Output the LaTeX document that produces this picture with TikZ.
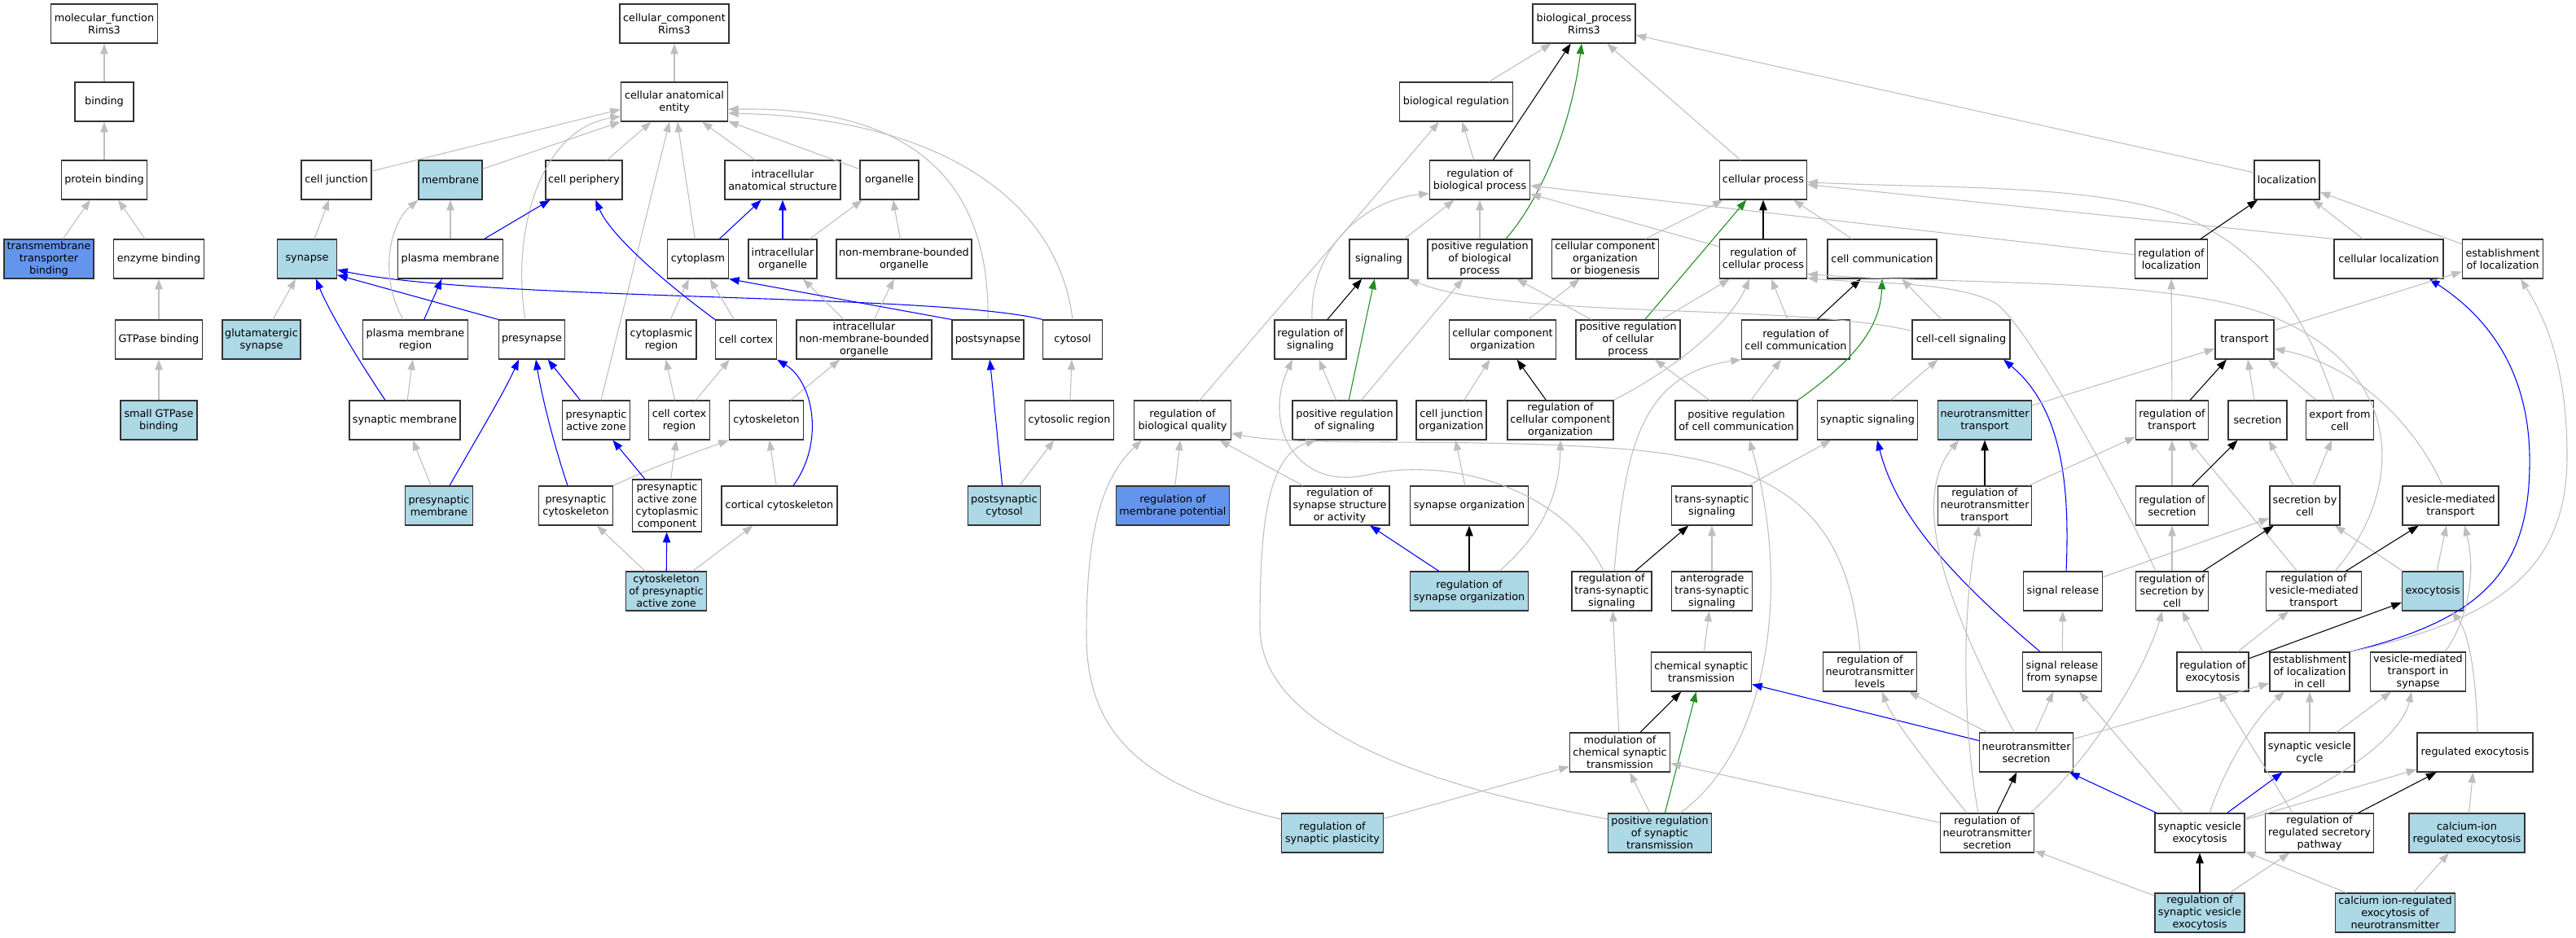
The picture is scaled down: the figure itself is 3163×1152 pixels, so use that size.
\documentclass[tikz,border=0pt]{standalone}
\usepackage{fontspec}
\setmainfont{DejaVu Sans}
\usepackage{tikz}
\usetikzlibrary{arrows.meta}
\usetikzlibrary{calc}
\definecolor{edgegray}{HTML}{BEBEBE}
\definecolor{partblue}{HTML}{0000FF}
\definecolor{posgreen}{HTML}{228B22}
\definecolor{hitblue}{HTML}{ADD8E6}
\definecolor{annblue}{HTML}{6495ED}
\begin{document}
\begin{tikzpicture}[x=0.75pt,y=0.75pt,yscale=-1,xscale=1,
  term/.style={draw=black!80,line width=0.9pt,fill=white,align=center,inner xsep=1pt,inner ysep=1pt,minimum height=36pt,font=\fontsize{9.6pt}{11.25pt}\selectfont},
  hit/.style={term,fill=hitblue},
  ann/.style={term,fill=annblue},
  bw/.style={minimum width=#1*0.75pt},
  isa/.style={draw=edgegray,line width=0.8pt,-{Triangle[length=9.5pt,width=7pt]}},
  partof/.style={isa,draw=partblue},
  regl/.style={isa,draw=black},
  posregl/.style={isa,draw=posgreen}]
  \useasboundingbox (0,0) rectangle (3163,1152); %picture is 3163 wide and 1152 high

  % Text Node: molecular function
  \node[term,bw=131] (mf) at (128,29) {molecular\_function\\Rims3};
  \node[term,bw=72] (binding) at (128,125) {binding};
  \node[term,bw=105] (protbind) at (128,221) {protein binding};
  \node[ann,bw=110] (tmtbind) at (60,318) {transmembrane\\transporter\\binding};
  \node[term,bw=111] (enzbind) at (195,318) {enzyme binding};
  \node[term,bw=107] (gtpbind) at (195,417) {GTPase binding};
  \node[hit,bw=94] (smgtp) at (195,516) {small GTPase\\binding};

  % Text Node: cellular component
  \node[term,bw=134] (cc) at (828,29) {cellular\_component\\Rims3};
  \node[term,bw=131] (cae) at (828,125) {cellular anatomical\\entity};
  \node[term,bw=86] (celljunc) at (413,221) {cell junction};
  \node[hit,bw=78] (membrane) at (553,221) {membrane};
  \node[term,bw=94] (cellper) at (717,221) {cell periphery};
  \node[term,bw=142] (ias) at (961,221) {intracellular\\anatomical structure};
  \node[term,bw=72] (organelle) at (1092,221) {organelle};
  \node[hit,bw=73] (synapse) at (377,318) {synapse};
  \node[term,bw=129] (plasmem) at (553,318) {plasma membrane};
  \node[term,bw=75] (cytoplasm) at (857,318) {cytoplasm};
  \node[term,bw=84] (icorg) at (961,318) {intracellular\\organelle};
  \node[term,bw=166] (nmbo) at (1110,318) {non-membrane-bounded\\organelle};
  \node[hit,bw=96] (glusyn) at (321,417) {glutamatergic\\synapse};
  \node[term,bw=129] (pmregion) at (510,417) {plasma membrane\\region};
  \node[term,bw=81] (presyn) at (653,417) {presynapse};
  \node[term,bw=86] (cytoreg) at (812,417) {cytoplasmic\\region};
  \node[term,bw=75] (cortex) at (916,417) {cell cortex};
  \node[term,bw=166] (icnmbo) at (1061,417) {intracellular\\non-membrane-bounded\\organelle};
  \node[term,bw=88] (postsyn) at (1213,417) {postsynapse};
  \node[term,bw=73] (cytosol) at (1317,417) {cytosol};
  \node[term,bw=136] (synmem) at (497,516) {synaptic membrane};
  \node[term,bw=83] (paz) at (732,516) {presynaptic\\active zone};
  \node[term,bw=75] (cortexreg) at (834,516) {cell cortex\\region};
  \node[term,bw=91] (cytoskel) at (941,516) {cytoskeleton};
  \node[term,bw=109] (cytosolreg) at (1313,516) {cytosolic region};
  \node[term,bw=119] (regbq) at (1452,516) {regulation of\\biological quality};
  \node[hit,bw=83] (presynmem) at (539,621) {presynaptic\\membrane};
  \node[term,bw=91] (presyncsk) at (707,621) {presynaptic\\cytoskeleton};
  \node[term,bw=85,minimum height=48pt] (pazcc) at (819,621) {presynaptic\\active zone\\cytoplasmic\\component};
  \node[term,bw=142] (corticalcsk) at (957,621) {cortical cytoskeleton};
  \node[hit,bw=89] (postsyncyt) at (1233,621) {postsynaptic\\cytosol};
  \node[ann,bw=139] (regmempot) at (1440,621) {regulation of\\membrane potential};
  \node[hit,bw=99] (cskpaz) at (818,726) {cytoskeleton\\of presynaptic\\active zone};

  % Text Node: biological process
  \node[term,bw=126] (bp) at (1945,29) {biological\_process\\Rims3};
  \node[term,bw=139] (bioreg) at (1788,125) {biological regulation};
  \node[term,bw=123] (regbp) at (1817,221) {regulation of\\biological process};
  \node[term,bw=107] (cellproc) at (2165,221) {cellular process};
  \node[term,bw=80] (localization) at (2808,221) {localization};
  \node[term,bw=72] (signaling) at (1693,318) {signaling};
  \node[term,bw=128] (posregbp) at (1817,318) {positive regulation\\of biological\\process};
  \node[term,bw=131] (ccob) at (1971,318) {cellular component\\organization\\or biogenesis};
  \node[term,bw=107] (regcp) at (2165,318) {regulation of\\cellular process};
  \node[term,bw=134] (cellcomm) at (2311,318) {cell communication};
  \node[term,bw=89] (regloc) at (2666,318) {regulation of\\localization};
  \node[term,bw=134] (cellloc) at (2933,318) {cellular localization};
  \node[term,bw=99] (estloc) at (3073,318) {establishment\\of localization};
  \node[term,bw=88] (regsig) at (1609,417) {regulation of\\signaling};
  \node[term,bw=131] (cco) at (1845,417) {cellular component\\organization};
  \node[term,bw=128] (posregcp) at (1999,417) {positive regulation\\of cellular\\process};
  \node[term,bw=133] (regcc) at (2205,417) {regulation of\\cell communication};
  \node[term,bw=120] (ccsig) at (2408,417) {cell-cell signaling};
  \node[term,bw=72] (transport) at (2756,417) {transport};
  \node[term,bw=128] (posregsig) at (1651,516) {positive regulation\\of signaling};
  \node[term,bw=86] (cjorg) at (1782,516) {cell junction\\organization};
  \node[term,bw=130] (regcco) at (1916,516) {regulation of\\cellular component\\organization};
  \node[term,bw=150] (posregcc) at (2132,516) {positive regulation\\of cell communication};
  \node[term,bw=123] (synsig) at (2293,516) {synaptic signaling};
  \node[hit,bw=115] (nttrans) at (2437,516) {neurotransmitter\\transport};
  \node[term,bw=89] (regtrans) at (2667,516) {regulation of\\transport};
  \node[term,bw=72] (secretion) at (2772,516) {secretion};
  \node[term,bw=83] (export) at (2873,516) {export from\\cell};
  \node[term,bw=122] (regsynstr) at (1645,621) {regulation of\\synapse structure\\or activity};
  \node[term,bw=145] (synorg) at (1804,621) {synapse organization};
  \node[term,bw=99] (tss) at (2102,621) {trans-synaptic\\signaling};
  \node[term,bw=115] (regnttrans) at (2437,621) {regulation of\\neurotransmitter\\transport};
  \node[term,bw=89] (regsec) at (2667,621) {regulation of\\secretion};
  \node[term,bw=86] (secbycell) at (2830,621) {secretion by\\cell};
  \node[term,bw=118] (vmt) at (3009,621) {vesicle-mediated\\transport};
  \node[hit,bw=145] (regsynorg) at (1804,726) {regulation of\\synapse organization};
  \node[term,bw=98] (regtss) at (1979,726) {regulation of\\trans-synaptic\\signaling};
  \node[term,bw=99] (antss) at (2102,726) {anterograde\\trans-synaptic\\signaling};
  \node[term,bw=97] (sigrel) at (2533,726) {signal release};
  \node[term,bw=89] (regsecbc) at (2667,726) {regulation of\\secretion by\\cell};
  \node[term,bw=117] (regvmt) at (2841,726) {regulation of\\vesicle-mediated\\transport};
  \node[hit,bw=75] (exocytosis) at (2987,726) {exocytosis};
  \node[term,bw=123] (chemst) at (2089,825) {chemical synaptic\\transmission};
  \node[term,bw=115] (regntlev) at (2296,825) {regulation of\\neurotransmitter\\levels};
  \node[term,bw=97] (sigrelsyn) at (2532,825) {signal release\\from synapse};
  \node[term,bw=88] (regexo) at (2717,825) {regulation of\\exocytosis};
  \node[term,bw=98] (estloccell) at (2836,825) {establishment\\of localization\\in cell};
  \node[term,bw=117] (vmtsyn) at (2969,825) {vesicle-mediated\\transport in\\synapse};
  \node[term,bw=123] (modcst) at (1989,924) {modulation of\\chemical synaptic\\transmission};
  \node[term,bw=115] (ntsec) at (2488,924) {neurotransmitter\\secretion};
  \node[term,bw=110] (svcycle) at (2836,924) {synaptic vesicle\\cycle};
  \node[term,bw=142] (regexocyt) at (3039,924) {regulated exocytosis};
  \node[hit,bw=125] (regsynpl) at (1636,1023) {regulation of\\synaptic plasticity};
  \node[hit,bw=127] (posregst) at (2038,1023) {positive regulation\\of synaptic\\transmission};
  \node[term,bw=115] (regntsec) at (2440,1023) {regulation of\\neurotransmitter\\secretion};
  \node[term,bw=110] (sve) at (2701,1023) {synaptic vesicle\\exocytosis};
  \node[term,bw=133] (regrsp) at (2848,1023) {regulation of\\regulated secretory\\pathway};
  \node[hit,bw=142] (caexo) at (3029,1023) {calcium-ion\\regulated exocytosis};
  \node[hit,bw=110] (regsve) at (2701,1121) {regulation of\\synaptic vesicle\\exocytosis};
  \node[hit,bw=147] (caexont) at (2941,1121) {calcium ion-regulated\\exocytosis of\\neurotransmitter};

  %Straight Lines: molecular function
  \draw[isa] (binding) -- (mf);
  \draw[isa] (protbind) -- (binding);
  \draw[isa] (tmtbind) -- (protbind);
  \draw[isa] (enzbind) -- (protbind);
  \draw[isa] (gtpbind) -- (enzbind);
  \draw[isa] (smgtp) -- (gtpbind);

  %Lines: cellular component
  \draw[isa] (cae) -- (cc);
  \draw[isa] (celljunc) -- (cae.188);
  \draw[isa] (membrane) -- (cae.south west);
  \draw[isa] (cellper) -- (cae);
  \draw[isa] (ias) -- (cae);
  \draw[isa] (organelle) -- (cae);
  \draw[isa] (cytoplasm) -- (cae);
  \draw[isa] (paz) -- (cae);
  \draw[isa] ($(presyn.north)+(-8,0)$) .. controls (628,290) and (660,160) .. (cae.195);
  \draw[isa] (postsyn.north) .. controls (1215,250) and (1150,130) .. (cae.-8);
  \draw[isa] (cytosol.north) .. controls (1300,250) and (1160,145) .. (cae.-12);
  \draw[isa] (plasmem) -- (membrane);
  \draw[partof] (plasmem) -- (cellper);
  \draw[isa] (synapse) -- (celljunc);
  \draw[partof] (cytoplasm) -- (ias);
  \draw[partof] (icorg) -- (ias);
  \draw[isa] (icorg) -- (organelle);
  \draw[isa] (nmbo) -- (organelle);
  \draw[isa] (glusyn) -- (synapse);
  \draw[partof] ($(synmem.north)+(-24,0)$) .. controls (445,450) and (405,385) .. ($(synapse.south)+(11,0)$);
  \draw[partof] (presyn.north west) -- (synapse.-28);
  \draw[partof] (cytosol.north west) .. controls (1150,360) and (600,370) .. (synapse.-20);
  \draw[isa] ($(pmregion.north)+(-15,0)$) .. controls (465,340) and (478,275) .. (membrane.south west);
  \draw[partof] (pmregion) -- (plasmem);
  \draw[isa] (synmem) -- (pmregion);
  \draw[isa] (cytoreg) -- (cytoplasm);
  \draw[isa] (cortex) -- (cytoplasm);
  \draw[partof] (cortex.north west) .. controls (820,350) and (750,290) .. (cellper.-60);
  \draw[isa] (icnmbo) -- (icorg);
  \draw[isa] (icnmbo) -- (nmbo);
  \draw[partof] (postsyn.north west) -- (cytoplasm.south east);
  \draw[isa] (presynmem) -- (synmem);
  \draw[partof] ($(presynmem.north)+(13,0)$) .. controls (590,530) and (620,480) .. ($(presyn.south)+(-16,0)$);
  \draw[partof] ($(presyncsk.north)+(-10,0)$) .. controls (678,540) and (664,480) .. ($(presyn.south)+(5,0)$);
  \draw[partof] (paz) -- (presyn);
  \draw[isa] (presyncsk.north east) .. controls (800,575) .. (cytoskel.south west);
  \draw[partof] (pazcc) -- (paz);
  \draw[isa] (pazcc) -- (cortexreg);
  \draw[isa] (cortexreg) -- (cytoreg);
  \draw[isa] (cortexreg) -- (cortex);
  \draw[isa] (cytoskel) -- (icnmbo);
  \draw[isa] (corticalcsk) -- (cytoskel);
  \draw[partof] ($(corticalcsk.north)+(17,0)$) .. controls (1012,545) and (1000,470) .. (cortex.south east);
  \draw[isa] (cskpaz) -- (presyncsk);
  \draw[partof] (cskpaz) -- (pazcc);
  \draw[isa] (cskpaz) -- (corticalcsk);
  \draw[partof] (postsyncyt) -- (postsyn);
  \draw[isa] (postsyncyt) -- (cytosolreg);
  \draw[isa] (cytosolreg) -- (cytosol);
  \draw[isa] (regmempot) -- (regbq);

  %Lines: biological process
  \draw[isa] (bioreg) -- (bp);
  \draw[regl] (regbp) -- (bp);
  \draw[posregl] ($(posregbp.north)+(32,0)$) .. controls (1895,240) and (1930,150) .. ($(bp.south)+(-3,0)$);
  \draw[isa] (cellproc) -- (bp);
  \draw[isa] (localization) -- (bp);
  \draw[isa] (regbp) -- (bioreg);
  \draw[isa] (regbq) -- (bioreg);
  \draw[isa] (signaling) -- (regbp);
  \draw[isa] ($(regsig.north)+(2,0)$) .. controls (1608,300) and (1680,245) .. (regbp.195);
  \draw[isa] (posregbp) -- (regbp);
  \draw[isa] (regcp) -- (regbp);
  \draw[isa] (regloc) -- (regbp);
  \draw[isa] (ccob) -- (cellproc);
  \draw[posregl] (posregcp) -- (cellproc);
  \draw[regl] (regcp) -- (cellproc);
  \draw[isa] (cellcomm) -- (cellproc);
  \draw[isa] ($(export.north)+(-7,0)$) .. controls (2835,400) and (2790,320) .. (2700,275) .. controls (2600,225) and (2400,232) .. (cellproc.-3);
  \draw[isa] (cellloc.north west) -- (cellproc.-6);
  \draw[regl] (regloc) -- (localization);
  \draw[isa] (cellloc) -- (localization);
  \draw[isa] (estloc) -- (localization);
  \draw[regl] (regsig) -- (signaling);
  \draw[posregl] (posregsig) -- (signaling);
  \draw[isa] (posregsig) -- (regsig);
  \draw[isa] (posregsig) -- (posregbp);
  \draw[isa] ($(regtss.north)+(-10,0)$) .. controls (1920,600) and (1780,560) .. (1680,583) .. controls (1590,604) and (1550,520) .. ($(regsig.south)+(-22,0)$);
  \draw[regl] (regtss) -- (tss);
  \draw[isa] ($(regtss.north)+(3,0)$) .. controls (1995,560) and (2010,460) .. (regcc.south west);
  \draw[isa] (antss) -- (tss);
  \draw[isa] (tss) -- (synsig);
  \draw[isa] (synsig) -- (ccsig);
  \draw[isa] (ccsig) -- (cellcomm);
  \draw[partof] ($(sigrelsyn.north)+(-27,0)$) .. controls (2410,720) and (2330,640) .. ($(synsig.south)+(12,0)$);
  \draw[partof] ($(sigrel.north)+(4,0)$) .. controls (2542,590) and (2530,500) .. ($(ccsig.south)+(52,0)$);
  \draw[isa] (ccsig.170) .. controls (2200,372) and (1850,392) .. (signaling.south east);
  \draw[isa] (posregcp) -- (regcp);
  \draw[isa] (posregcp) -- (posregbp);
  \draw[isa] (cco) -- (ccob);
  \draw[isa] (regcc) -- (regcp);
  \draw[regl] (regcc) -- (cellcomm);
  \draw[posregl] (posregcc.north east) .. controls (2280,440) and (2309,400) .. (cellcomm.south);
  \draw[isa] (posregcc) -- (regcc);
  \draw[isa] (posregcc) -- (posregcp);
  \draw[regl] (regcco) -- (cco);
  \draw[isa] (regcco.north east) .. controls (2080,440) and (2130,385) .. ($(regcp.south)+(-17,0)$);
  \draw[isa] (cjorg) -- (cco);
  \draw[isa] (synorg) -- (cjorg);
  \draw[regl] (regsynorg) -- (synorg);
  \draw[partof] (regsynorg) -- (regsynstr);
  \draw[isa] ($(regsynorg.north)+(37,0)$) .. controls (1900,650) and (1915,600) .. (regcco.south);
  \draw[isa] (regsynstr) -- (regbq);
  \draw[isa] (posregst.165) .. controls (1720,960) and (1547,885) .. (1547,770) .. controls (1547,650) and (1555,560) .. ($(posregsig.south)+(-35,0)$);
  \draw[isa] (regsynpl.165) .. controls (1400,965) and (1334,900) .. (1334,780) .. controls (1334,660) and (1350,590) .. ($(regbq.south west)+(10,0)$);
  \draw[isa] ($(regntlev.north)+(-12,0)$) .. controls (2270,640) and (2200,570) .. (2000,552) .. controls (1800,536) and (1600,550) .. (regbq.-15);
  \draw[regl] (modcst) -- (chemst);
  \draw[posregl] (posregst) -- (chemst);
  \draw[isa] (posregst) -- (modcst);
  \draw[isa] (regsynpl) -- (modcst);
  \draw[isa] (modcst) -- (regtss);
  \draw[isa] (chemst) -- (antss);
  \draw[isa] ($(posregst.north)+(25,0)$) .. controls (2172,920) and (2200,720) .. ($(posregcc.south)+(16,0)$);
  \draw[isa] (regntsec) -- (modcst);
  \draw[partof] (ntsec) -- (chemst);
  \draw[isa] (ntsec) -- (regntlev);
  \draw[isa] ($(regntsec.north)+(-25,0)$) .. controls (2360,930) and (2322,880) .. ($(regntlev.south)+(15,0)$);
  \draw[isa] (ntsec) -- (sigrelsyn);
  \draw[isa] ($(ntsec.north)+(-15,0)$) .. controls (2400,760) and (2340,620) .. ($(nttrans.south)+(-32,0)$);
  \draw[isa] ($(regntsec.north)+(-11,0)$) .. controls (2408,880) and (2410,740) .. ($(regnttrans.south)+(-7,0)$);
  \draw[regl] (regntsec) -- (ntsec);
  \draw[isa] ($(regntsec.north)+(53,0)$) .. controls (2560,940) and (2632,830) .. ($(regsecbc.south)+(-12,0)$);
  \draw[isa] (ntsec) -- (estloccell);
  \draw[isa] (regsve) -- (regntsec);
  \draw[regl] (regsve) -- (sve);
  \draw[isa] (regsve) -- (regrsp);
  \draw[isa] (caexont) -- (sve);
  \draw[isa] (caexont) -- (caexo);
  \draw[isa] (caexo) -- (regexocyt);
  \draw[regl] (regrsp) -- (regexocyt);
  \draw[isa] ($(regrsp.north)+(-33,0)$) -- ($(regexo.south)+(7,0)$);
  \draw[isa] (sve) -- (sigrelsyn);
  \draw[partof] (sve) -- (ntsec);
  \draw[isa] ($(sve.north)+(12,0)$) .. controls (2740,920) and (2782,870) .. ($(estloccell.south)+(-31,0)$);
  \draw[partof] (sve) -- (svcycle);
  \draw[isa] (sve) -- (regexocyt);
  \draw[isa] ($(sve.east)+(0,-18)$) .. controls (2880,960) and (2950,900) .. ($(vmtsyn.south)+(-8,0)$);
  \draw[isa] (regexo) -- (regsecbc);
  \draw[regl] (regexo) -- (exocytosis);
  \draw[isa] (regexo) -- (regvmt);
  \draw[partof] (estloccell.north east) .. controls (3050,760) and (3108,700) .. (3106,560) .. controls (3104,440) and (3040,380) .. ($(cellloc.south)+(50,0)$);
  \draw[isa] (estloccell.north east) .. controls (3080,760) and (3152,690) .. (3152,560) .. controls (3152,450) and (3125,390) .. ($(estloc.south)+(22,0)$);
  \draw[isa] (svcycle) -- (estloccell);
  \draw[isa] (svcycle) -- (vmtsyn);
  \draw[isa] ($(regexocyt.north)+(3,0)$) .. controls (3040,820) and (3030,775) .. ($(exocytosis.south)+(23,0)$);
  \draw[isa] ($(vmtsyn.north)+(33,0)$) .. controls (3032,760) and (3040,700) .. ($(vmt.south)+(17,0)$);
  \draw[isa] (exocytosis) -- (vmt);
  \draw[isa] (exocytosis) -- (secbycell);
  \draw[regl] (regvmt) -- (vmt);
  \draw[isa] (regvmt) -- (regtrans);
  \draw[isa] ($(regvmt.north)+(26,0)$) .. controls (2955,600) and (2955,450) .. (2780,385) .. controls (2650,340) and (2400,350) .. ($(regcp.south east)+(0,-6)$);
  \draw[isa] ($(regsecbc.north)+(-20,0)$) .. controls (2600,600) and (2490,400) .. (2450,372) .. controls (2400,345) and (2290,348) .. ($(regcp.south east)+(0,-1)$);
  \draw[regl] (regsecbc) -- (secbycell);
  \draw[isa] (regsecbc) -- (regsec);
  \draw[isa] (sigrel) -- (secbycell);
  \draw[regl] (regsec) -- (secretion);
  \draw[isa] (regsec) -- (regtrans);
  \draw[isa] (secbycell) -- (secretion);
  \draw[isa] (secbycell) -- (export);
  \draw[isa] ($(vmt.north)+(-10,0)$) .. controls (2970,530) and (2900,450) .. (transport.-17);
  \draw[regl] (regnttrans) -- (nttrans);
  \draw[isa] (regnttrans) -- (regtrans);
  \draw[isa] (nttrans) -- (transport);
  \draw[regl] (regtrans) -- (transport);
  \draw[isa] (regtrans) -- (regloc);
  \draw[isa] (secretion) -- (transport);
  \draw[isa] (export) -- (transport);
  \draw[isa] (transport) -- (estloc);
  \draw[isa] (sigrelsyn) -- (sigrel);
\end{tikzpicture}
\end{document}
